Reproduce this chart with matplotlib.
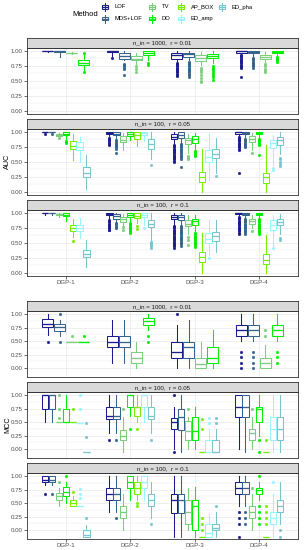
import matplotlib
matplotlib.use("Agg")
import matplotlib.pyplot as plt
from matplotlib.patches import Rectangle
from matplotlib.lines import Line2D

plt.rcParams['font.family'] = ['Liberation Sans', 'DejaVu Sans']

W, H = 304, 550
fig = plt.figure(figsize=(W / 100, H / 100), dpi=100)

methods = ["LOF", "MDS+LOF", "TV", "DO", "AP_BOX", "ED_amp", "ED_pha"]
colors = ["#1C1C8C", "#36648B", "#7CCD7C", "#00EE00", "#76EE00", "#98F5FF", "#7AC5CD"]
dgps = ["DGP-1", "DGP-2", "DGP-3", "DGP-4"]
strip_titles = ["n_in = 1000,  r = 0.01", "n_in = 100,  r = 0.05", "n_in = 100,  r = 0.1"]

# ---- AUC, n_in=1000, r=0.01 : (whislo, q1, med, q3, whishi) per DGP
AUC_1 = {
    "LOF":     [(0.975, 0.995, 1.0, 1.0, 1.0), (0.92, 0.975, 0.99, 1.0, 1.0), (0.82, 0.87, 0.93, 0.955, 1.0), (0.94, 0.97, 0.99, 1.0, 1.0)],
    "MDS+LOF": [(0.90, 0.985, 0.995, 1.0, 1.0), (0.84, 0.87, 0.91, 0.955, 1.0), (0.84, 0.90, 0.95, 0.967, 1.0), (0.90, 0.955, 0.985, 1.0, 1.0)],
    "TV":      [(0.94, 0.955, 0.96, 0.965, 0.98), (0.78, 0.845, 0.87, 0.91, 0.96), (0.77, 0.833, 0.88, 0.928, 0.98), (0.82, 0.87, 0.90, 0.93, 0.98)],
    "DO":      [(0.66, 0.77, 0.80, 0.84, 0.95), (0.85, 0.93, 0.96, 1.0, 1.0), (0.80, 0.872, 0.92, 0.944, 0.99), (0.93, 0.97, 0.985, 1.0, 1.0)],
}
AUC_1_out = {
    "LOF":     [[], [0.88], [0.80, 0.78, 0.76, 0.74, 0.72, 0.70, 0.68, 0.66, 0.64, 0.62, 0.60, 0.58], [0.93, 0.91, 0.89, 0.87, 0.85, 0.83, 0.81, 0.79, 0.77, 0.75, 0.73, 0.72, 0.57]],
    "MDS+LOF": [[], [0.78, 0.76, 0.74, 0.72, 0.70, 0.60], [0.82, 0.80, 0.78, 0.76, 0.74, 0.72, 0.70, 0.68, 0.66, 0.64, 0.62, 0.60, 0.57], [0.88, 0.86, 0.84, 0.82, 0.80, 0.78, 0.76, 0.74, 0.72]],
    "TV":      [[], [0.74, 0.70, 0.65], [0.72, 0.68, 0.64, 0.60, 0.55, 0.50, 0.48], [0.78, 0.74, 0.70, 0.67, 0.65]],
    "DO":      [[0.97, 0.64], [0.80, 0.76], [0.75, 0.72, 0.69, 0.66, 0.63, 0.60, 0.57, 0.52], [0.90, 0.88, 0.86, 0.84, 0.82]],
}

# ---- AUC, n_in=100, r=0.05
AUC_2 = {
    "LOF":     [(0.97, 0.995, 1.0, 1.0, 1.0), (0.92, 0.96, 0.98, 1.0, 1.0), (0.80, 0.88, 0.92, 0.97, 1.0), (0.93, 0.97, 0.99, 1.0, 1.0)],
    "MDS+LOF": [(0.97, 0.995, 1.0, 1.0, 1.0), (0.88, 0.945, 0.97, 1.0, 1.0), (0.82, 0.89, 0.94, 0.99, 1.0), (0.90, 0.96, 0.985, 1.0, 1.0)],
    "TV":      [(0.91, 0.935, 0.945, 0.955, 0.98), (0.70, 0.83, 0.87, 0.933, 0.98), (0.65, 0.79, 0.86, 0.90, 0.96), (0.70, 0.83, 0.88, 0.93, 0.98)],
    "DO":      [(0.88, 0.945, 0.97, 1.0, 1.0), (0.86, 0.93, 0.97, 1.0, 1.0), (0.70, 0.82, 0.88, 0.93, 0.98), (0.90, 0.955, 0.98, 1.0, 1.0)],
    "AP_BOX":  [(0.53, 0.72, 0.767, 0.85, 0.96), (0.77, 0.88, 0.95, 0.99, 1.0), (0.0, 0.167, 0.25, 0.33, 0.72), (0.0, 0.14, 0.24, 0.32, 0.78)],
    "ED_amp":  [(0.50, 0.69, 0.75, 0.83, 0.91), (0.85, 0.95, 0.98, 1.0, 1.0), (0.19, 0.50, 0.58, 0.69, 0.97), (0.45, 0.73, 0.82, 0.86, 0.95)],
    "ED_pha":  [(0.045, 0.25, 0.31, 0.417, 0.62), (0.55, 0.72, 0.80, 0.88, 1.0), (0.32, 0.56, 0.63, 0.71, 0.90), (0.63, 0.78, 0.87, 0.92, 1.0)],
}
AUC_2_out = {
    "LOF":     [[0.96], [0.90, 0.88, 0.86, 0.84, 0.82, 0.80, 0.78], [0.78, 0.76, 0.74, 0.72, 0.70, 0.68, 0.66, 0.64, 0.62, 0.60, 0.58, 0.56, 0.54, 0.52, 0.50], [0.92, 0.90, 0.88, 0.86, 0.84, 0.82, 0.80, 0.78, 0.76, 0.74, 0.72, 0.70, 0.32]],
    "MDS+LOF": [[0.96], [0.86, 0.84, 0.82, 0.80, 0.78, 0.76, 0.74, 0.72, 0.65], [0.80, 0.78, 0.76, 0.74, 0.72, 0.70, 0.68, 0.66, 0.64, 0.62, 0.60, 0.58, 0.55, 0.41], [0.88, 0.86, 0.84, 0.82, 0.80, 0.78, 0.76, 0.74]],
    "TV":      [[0.89], [], [0.60, 0.57, 0.55], [0.64]],
    "DO":      [[0.85, 0.83, 0.81], [], [0.68, 0.66, 0.64, 0.62, 0.60], [0.88, 0.86, 0.84, 0.82, 0.80, 0.78, 0.61]],
    "AP_BOX":  [[], [], [], []],
    "ED_amp":  [[], [], [], [0.40, 0.36]],
    "ED_pha":  [[], [0.44], [0.26], [0.57, 0.54, 0.50, 0.47, 0.43]],
}

# ---- AUC, n_in=100, r=0.1
AUC_3 = {
    "LOF":     [(0.97, 0.995, 1.0, 1.0, 1.0), (0.90, 0.955, 0.98, 1.0, 1.0), (0.80, 0.89, 0.93, 0.96, 1.0), (0.95, 0.98, 0.99, 1.0, 1.0)],
    "MDS+LOF": [(0.97, 0.995, 1.0, 1.0, 1.0), (0.85, 0.90, 0.95, 0.98, 1.0), (0.80, 0.88, 0.93, 0.96, 1.0), (0.92, 0.96, 0.985, 1.0, 1.0)],
    "TV":      [(0.93, 0.97, 0.975, 0.98, 0.99), (0.80, 0.85, 0.89, 0.93, 0.98), (0.65, 0.78, 0.82, 0.88, 0.97), (0.75, 0.82, 0.86, 0.90, 0.96)],
    "DO":      [(0.87, 0.944, 0.97, 1.0, 1.0), (0.85, 0.93, 0.97, 1.0, 1.0), (0.68, 0.80, 0.86, 0.90, 0.96), (0.92, 0.96, 0.985, 1.0, 1.0)],
    "AP_BOX":  [(0.60, 0.70, 0.75, 0.80, 0.90), (0.83, 0.92, 0.95, 1.0, 1.0), (0.0, 0.18, 0.26, 0.35, 0.67), (0.0, 0.14, 0.22, 0.31, 0.63)],
    "ED_amp":  [(0.58, 0.70, 0.75, 0.80, 0.92), (0.80, 0.93, 0.97, 1.0, 1.0), (0.30, 0.50, 0.57, 0.66, 0.88), (0.45, 0.71, 0.79, 0.88, 0.97)],
    "ED_pha":  [(0.10, 0.27, 0.32, 0.38, 0.55), (0.55, 0.76, 0.81, 0.88, 1.0), (0.35, 0.53, 0.61, 0.68, 0.88), (0.65, 0.79, 0.85, 0.90, 0.98)],
}
AUC_3_out = {
    "LOF":     [[], [0.88, 0.86, 0.84, 0.82, 0.80, 0.78, 0.76, 0.74, 0.72, 0.71], [0.78, 0.76, 0.74, 0.72, 0.70, 0.68, 0.66, 0.64, 0.62, 0.60, 0.58, 0.56, 0.54, 0.52, 0.50, 0.48, 0.46, 0.44, 0.42], [0.93, 0.91, 0.89, 0.87, 0.85, 0.83, 0.81, 0.79, 0.77, 0.75, 0.73, 0.71, 0.69, 0.67, 0.65]],
    "MDS+LOF": [[], [0.83, 0.81, 0.79, 0.77, 0.75], [0.78, 0.76, 0.74, 0.72, 0.70, 0.68, 0.66, 0.64, 0.62, 0.60, 0.58, 0.56, 0.54, 0.52, 0.50, 0.48, 0.45], [0.90, 0.88, 0.86, 0.84, 0.82, 0.80, 0.78, 0.76, 0.74, 0.72, 0.70, 0.68, 0.65]],
    "TV":      [[], [0.76, 0.72], [0.60, 0.55, 0.47], [0.70]],
    "DO":      [[], [0.83, 0.81, 0.79, 0.77, 0.75, 0.73, 0.71, 0.69, 0.66], [0.66, 0.64, 0.62, 0.60, 0.58, 0.56, 0.54, 0.52, 0.50, 0.48, 0.46, 0.43], [0.90, 0.88, 0.86, 0.84, 0.82, 0.80, 0.78, 0.76, 0.74, 0.72, 0.70, 0.68, 0.65]],
    "AP_BOX":  [[0.53], [0.78, 0.73], [], []],
    "ED_amp":  [[], [0.75], [0.24], [0.42]],
    "ED_pha":  [[], [0.52, 0.50, 0.48, 0.46, 0.44, 0.42], [], [0.58, 0.55]],
}

# ---- MCC, n_in=1000, r=0.01
MCC_1 = {
    "LOF":     [(0.62, 0.77, 0.815, 0.907, 1.0), (0.10, 0.39, 0.48, 0.60, 0.90), (0.0, 0.185, 0.29, 0.49, 0.80), (0.50, 0.60, 0.70, 0.80, 1.0)],
    "MDS+LOF": [(0.60, 0.696, 0.77, 0.815, 0.90), (0.10, 0.39, 0.49, 0.60, 0.90), (0.0, 0.185, 0.40, 0.49, 0.90), (0.50, 0.60, 0.70, 0.80, 1.0)],
    "TV":      [(0.49, 0.49, 0.49, 0.49, 0.49), (0.0, 0.09, 0.185, 0.29, 0.49), (0.0, 0.0, 0.08, 0.185, 0.49), (0.0, 0.0, 0.09, 0.185, 0.42)],
    "DO":      [(0.49, 0.49, 0.49, 0.49, 0.49), (0.70, 0.80, 0.87, 0.93, 1.0), (0.0, 0.09, 0.185, 0.39, 0.70), (0.50, 0.60, 0.70, 0.80, 1.0)],
}
MCC_1_out = {
    "LOF":     [[0.49], [], [1.0], [0.30, 0.20, 0.10, 0.0]],
    "MDS+LOF": [[1.0, 0.49], [], [], [0.30, 0.20, 0.10, 0.0]],
    "TV":      [[0.60], [], [], [0.70, 0.60]],
    "DO":      [[0.60], [0.60, 0.49], [], [0.30, 0.20, 0.10]],
}

# ---- MCC, n_in=100, r=0.05
MCC_2 = {
    "LOF":     [(0.50, 0.75, 1.0, 1.0, 1.0), (0.30, 0.55, 0.62, 0.78, 1.0), (0.0, 0.37, 0.50, 0.57, 0.78), (0.0, 0.60, 0.78, 1.0, 1.0)],
    "MDS+LOF": [(0.50, 0.75, 1.0, 1.0, 1.0), (0.30, 0.55, 0.62, 0.78, 1.0), (-0.05, 0.36, 0.60, 0.75, 1.0), (-0.05, 0.60, 0.78, 1.0, 1.0)],
    "TV":      [(0.50, 0.50, 0.50, 0.50, 0.50), (-0.05, 0.16, 0.25, 0.35, 0.60), (0.0, 0.16, 0.34, 0.53, 0.60), (0.0, 0.16, 0.30, 0.37, 0.60)],
    "DO":      [(0.50, 0.50, 0.50, 0.74, 1.0), (0.62, 0.78, 1.0, 1.0, 1.0), (0.0, 0.16, 0.34, 0.60, 0.78), (0.25, 0.50, 0.75, 0.78, 1.0)],
    "AP_BOX":  [(0.50, 0.50, 0.50, 0.50, 0.50), (0.50, 0.62, 0.78, 0.78, 1.0), (-0.05, -0.05, -0.05, -0.05, -0.05), (-0.05, -0.05, -0.05, -0.05, -0.05)],
    "ED_amp":  [(0.48, 0.48, 0.48, 0.48, 0.48), (0.50, 0.78, 1.0, 1.0, 1.0), (-0.05, -0.05, -0.05, 0.16, 0.37), (-0.05, 0.16, 0.37, 0.60, 1.0)],
    "ED_pha":  [(-0.05, -0.05, -0.05, -0.05, -0.05), (0.30, 0.55, 0.62, 0.78, 1.0), (-0.05, -0.05, -0.05, 0.16, 0.37), (-0.05, 0.16, 0.37, 0.60, 1.0)],
}
MCC_2_out = {
    "LOF":     [[], [0.16], [1.0, -0.05], []],
    "MDS+LOF": [[], [0.16], [], []],
    "TV":      [[1.0, 0.75, 0.57], [0.74], [0.74], [0.74]],
    "DO":      [[], [0.37], [], [0.16, -0.05]],
    "AP_BOX":  [[0.74], [0.37], [0.55, 0.37], [0.16]],
    "ED_amp":  [[1.0, 0.74], [], [0.57, 0.48], []],
    "ED_pha":  [[0.48, 0.22], [0.16], [0.57, 0.48], []],
}

# ---- MCC, n_in=100, r=0.1
MCC_3 = {
    "LOF":     [(0.83, 0.89, 0.925, 1.0, 1.0), (0.33, 0.56, 0.67, 0.78, 1.0), (-0.12, 0.31, 0.55, 0.675, 1.0), (0.44, 0.67, 0.78, 0.89, 1.0)],
    "MDS+LOF": [(0.83, 0.89, 0.925, 1.0, 1.0), (0.33, 0.56, 0.67, 0.78, 1.0), (-0.12, 0.31, 0.55, 0.675, 1.0), (0.44, 0.67, 0.78, 0.89, 1.0)],
    "TV":      [(0.45, 0.55, 0.63, 0.68, 0.78), (0.0, 0.225, 0.33, 0.44, 0.67), (0.0, 0.11, 0.33, 0.55, 0.78), (0.0, 0.225, 0.33, 0.44, 0.67)],
    "DO":      [(0.50, 0.64, 0.70, 0.80, 0.89), (0.55, 0.78, 0.89, 1.0, 1.0), (-0.12, 0.0, 0.44, 0.56, 0.80), (0.55, 0.67, 0.75, 0.78, 0.89)],
    "AP_BOX":  [(0.44, 0.44, 0.50, 0.55, 0.63), (0.55, 0.67, 0.78, 0.89, 1.0), (-0.12, -0.12, -0.12, -0.12, -0.12), (-0.12, -0.12, -0.12, -0.12, -0.12)],
    "ED_amp":  [(0.45, 0.45, 0.45, 0.45, 0.45), (0.55, 0.78, 0.89, 1.0, 1.0), (-0.12, -0.12, -0.05, 0.11, 0.30), (-0.12, 0.11, 0.22, 0.33, 0.67)],
    "ED_pha":  [(-0.12, -0.12, -0.10, 0.0, 0.10), (0.22, 0.45, 0.56, 0.675, 0.89), (-0.12, 0.0, 0.03, 0.11, 0.33), (0.11, 0.33, 0.44, 0.55, 0.89)],
}
MCC_3_out = {
    "LOF":     [[0.67], [], [], [0.33, 0.22, 0.11, -0.12]],
    "MDS+LOF": [[0.67], [0.22], [], [0.33, 0.22, 0.11]],
    "TV":      [[0.89], [], [], [0.78]],
    "DO":      [[1.0], [], [], [1.0, 0.44, 0.33, 0.22, 0.11]],
    "AP_BOX":  [[0.70], [0.50, 0.44], [0.22, 0.11, 0.0], [0.44, 0.33, 0.22, 0.11]],
    "ED_amp":  [[0.77, 0.67, 0.60], [], [], [0.89]],
    "ED_pha":  [[0.22], [0.11], [0.44], [0.0, -0.12]],
}

# ---------------- layout (pixels) ----------------
PX_L, PX_R = 27, 298
STRIP_H = 10
PANEL_H = 66
auc_tops = [47.7, 128.7, 209.7]
mcc_tops = [311.0, 392.0, 473.0]

GRID = "#EBEBEB"
BORDER = "#333333"
TXT = "#4D4D4D"


def fig_rect(top_px, h_px):
    return [PX_L / W, 1 - (top_px + h_px) / H, (PX_R - PX_L) / W, h_px / H]


def draw_panel(top, stats, outs, title, ylim, show_x):
    ax = fig.add_axes(fig_rect(top, PANEL_H))
    ax.set_xlim(0.4, 4.6)
    ax.set_ylim(*ylim)
    ax.set_yticks([0, 0.25, 0.5, 0.75, 1.0])
    ax.set_yticklabels(["0.00", "0.25", "0.50", "0.75", "1.00"])
    ax.set_yticks([0.125, 0.375, 0.625, 0.875], minor=True)
    ax.set_xticks([1, 2, 3, 4])
    ax.set_xticklabels(dgps if show_x else [])
    ax.grid(True, which="major", color=GRID, lw=0.55)
    ax.grid(True, which="minor", axis="y", color=GRID, lw=0.3)
    ax.set_axisbelow(True)
    ax.tick_params(axis="both", which="major", length=2, width=0.5, color="#333333",
                   labelsize=4.4, labelcolor=TXT, pad=1)
    ax.tick_params(axis="both", which="minor", length=0)
    if not show_x:
        ax.tick_params(axis="x", length=0)
    for s in ax.spines.values():
        s.set_color(BORDER)
        s.set_linewidth(0.6)
        s.set_zorder(5)
    present = [m for m in methods if m in stats]
    n = len(present)
    slot = 0.75 / n
    for j, m in enumerate(present):
        c = colors[methods.index(m)]
        for i in range(4):
            lo, q1, med, q3, hi = stats[m][i]
            st = [dict(whislo=lo, q1=q1, med=med, q3=q3, whishi=hi, fliers=outs[m][i])]
            pos = (i + 1) + (j - (n - 1) / 2) * slot
            ax.bxp(st, positions=[pos], widths=slot * 0.9, showcaps=False,
                   patch_artist=True, manage_ticks=False,
                   boxprops=dict(facecolor="white", edgecolor=c, linewidth=0.75),
                   medianprops=dict(color=c, linewidth=0.95),
                   whiskerprops=dict(color=c, linewidth=0.75),
                   flierprops=dict(marker="o", markerfacecolor=c, markeredgecolor=c,
                                   markersize=2.0, markeredgewidth=0.2, linestyle="none"))
    # strip
    sax = fig.add_axes(fig_rect(top - STRIP_H, STRIP_H))
    sax.set_facecolor("#D9D9D9")
    sax.set_xticks([])
    sax.set_yticks([])
    for s in sax.spines.values():
        s.set_color(BORDER)
        s.set_linewidth(0.6)
    sax.text(0.5, 0.45, title, ha="center", va="center", fontsize=4.4, color="#1A1A1A",
             transform=sax.transAxes)
    return ax


auc_ylim = (-0.05, 1.05)
mcc_ylim = (-0.165, 1.06)
for k, (st, ou) in enumerate([(AUC_1, AUC_1_out), (AUC_2, AUC_2_out), (AUC_3, AUC_3_out)]):
    draw_panel(auc_tops[k], st, ou, strip_titles[k], auc_ylim, k == 2)
for k, (st, ou) in enumerate([(MCC_1, MCC_1_out), (MCC_2, MCC_2_out), (MCC_3, MCC_3_out)]):
    draw_panel(mcc_tops[k], st, ou, strip_titles[k], mcc_ylim, k == 2)

fig.text(7.5 / W, 1 - 161.7 / H, "AUC", rotation=90, ha="center", va="center", fontsize=5.2, color="black")
fig.text(7.5 / W, 1 - 425 / H, "MCC", rotation=90, ha="center", va="center", fontsize=5.2, color="black")

# ---------------- legend ----------------
fig.text(72 / W, 1 - 15 / H, "Method", ha="left", va="center", fontsize=5.5, color="black")
key_x = [101.5, 101.5, 148.5, 148.5, 177.5, 177.5, 218.5]
key_y = [7.0, 18.5, 7.0, 18.5, 7.0, 18.5, 7.0]
for m, c, kx, ky in zip(methods, colors, key_x, key_y):
    kw, bh = 6.5, 3.6
    x0 = kx / W
    x1 = (kx + kw) / W
    xm = (kx + kw / 2) / W
    fig.add_artist(Line2D([xm, xm], [1 - (ky - 4.0) / H, 1 - (ky + 4.0) / H], color=c, lw=0.75))
    fig.add_artist(Rectangle((x0, 1 - (ky + bh / 2) / H), kw / W, bh / H, facecolor="white",
                             edgecolor=c, lw=0.75))
    fig.add_artist(Line2D([x0, x1], [1 - ky / H, 1 - ky / H], color=c, lw=0.95))
    fig.text((kx + kw + 6.5) / W, 1 - ky / H, m, ha="left", va="center", fontsize=4.2, color="black")

fig.savefig("out.png", dpi=100, facecolor="white")
